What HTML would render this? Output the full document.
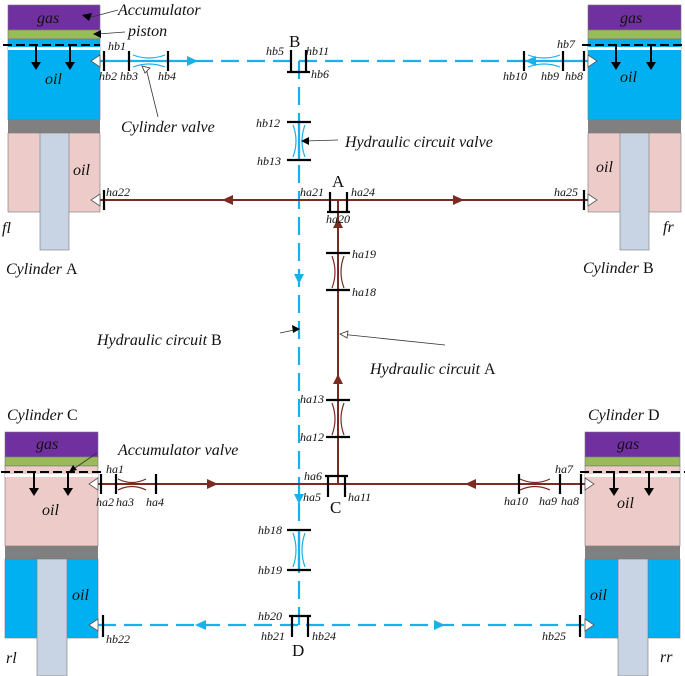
<!DOCTYPE html>
<html><head><meta charset="utf-8"><style>
html,body{margin:0;padding:0;background:#fff}
svg{display:block}
text{font-family:"Liberation Serif",serif;font-style:italic;fill:#111}
.s{font-size:12px}
.m{font-size:16px}
.l{font-size:17px}
.n{font-style:normal}
</style></head><body>
<svg width="685" height="676" viewBox="0 0 685 676" xmlns="http://www.w3.org/2000/svg">
<!-- Cylinder A -->
<rect x="8" y="5" width="92" height="25" fill="#7030a0" stroke="#777" stroke-width=".6"/>
<rect x="8" y="30" width="92" height="9" fill="#9bbb59" stroke="#777" stroke-width=".6"/>
<rect x="8" y="39" width="92" height="81" fill="#00b0f0" stroke="#777" stroke-width=".6"/>
<rect x="8" y="47" width="92" height="3" fill="#fff"/>
<rect x="8" y="120" width="92" height="13" fill="#808080"/>
<rect x="8" y="133" width="92" height="79" fill="#eccbc8" stroke="#777" stroke-width=".6"/>
<rect x="40" y="133" width="29" height="117" fill="#c8d4e4" stroke="#777" stroke-width=".6"/>
<line x1="3" y1="45" x2="100" y2="45" stroke="#000" stroke-width="2" stroke-dasharray="9,4"/>
<line x1="36" y1="44" x2="36" y2="64" stroke="#000" stroke-width="2"/><path d="M31,62 L41,62 L36,70z"/>
<line x1="70" y1="44" x2="70" y2="64" stroke="#000" stroke-width="2"/><path d="M65,62 L75,62 L70,70z"/>
<text x="37" y="23" class="m">gas</text>
<text x="45" y="84" class="m">oil</text>
<text x="73" y="175" class="m">oil</text>
<text x="2" y="233" class="m">fl</text>
<text x="6" y="274" class="m">Cylinder <tspan class="n">A</tspan></text>
<!-- Cylinder B -->
<rect x="588" y="5" width="93" height="25" fill="#7030a0" stroke="#777" stroke-width=".6"/>
<rect x="588" y="30" width="93" height="9" fill="#9bbb59" stroke="#777" stroke-width=".6"/>
<rect x="588" y="39" width="93" height="81" fill="#00b0f0" stroke="#777" stroke-width=".6"/>
<rect x="588" y="47" width="93" height="3" fill="#fff"/>
<rect x="588" y="120" width="93" height="13" fill="#808080"/>
<rect x="588" y="133" width="93" height="79" fill="#eccbc8" stroke="#777" stroke-width=".6"/>
<rect x="620" y="133" width="29" height="117" fill="#c8d4e4" stroke="#777" stroke-width=".6"/>
<line x1="582" y1="45" x2="685" y2="45" stroke="#000" stroke-width="2" stroke-dasharray="9,4"/>
<line x1="616" y1="44" x2="616" y2="64" stroke="#000" stroke-width="2"/><path d="M611,62 L621,62 L616,70z"/>
<line x1="651" y1="44" x2="651" y2="64" stroke="#000" stroke-width="2"/><path d="M646,62 L656,62 L651,70z"/>
<text x="620" y="23" class="m">gas</text>
<text x="620" y="82" class="m">oil</text>
<text x="596" y="172" class="m">oil</text>
<text x="663" y="232" class="m">fr</text>
<text x="583" y="273" class="m">Cylinder <tspan class="n">B</tspan></text>
<!-- Cylinder C -->
<rect x="5" y="432" width="93" height="25" fill="#7030a0" stroke="#777" stroke-width=".6"/>
<rect x="5" y="457" width="93" height="9" fill="#9bbb59" stroke="#777" stroke-width=".6"/>
<rect x="5" y="466" width="93" height="80" fill="#eccbc8" stroke="#777" stroke-width=".6"/>
<rect x="5" y="474" width="93" height="3" fill="#fff"/>
<rect x="5" y="546" width="93" height="13" fill="#808080"/>
<rect x="5" y="559" width="93" height="79" fill="#00b0f0" stroke="#777" stroke-width=".6"/>
<rect x="37" y="559" width="30" height="117" fill="#c8d4e4" stroke="#777" stroke-width=".6"/>
<line x1="1" y1="472" x2="103" y2="472" stroke="#000" stroke-width="2" stroke-dasharray="9,4"/>
<line x1="34" y1="471" x2="34" y2="490" stroke="#000" stroke-width="2"/><path d="M29,488 L39,488 L34,496z"/>
<line x1="68" y1="471" x2="68" y2="490" stroke="#000" stroke-width="2"/><path d="M63,488 L73,488 L68,496z"/>
<text x="36" y="449" class="m">gas</text>
<text x="42" y="515" class="m">oil</text>
<text x="72" y="600" class="m">oil</text>
<text x="6" y="663" class="m">rl</text>
<text x="7" y="420" class="m">Cylinder <tspan class="n">C</tspan></text>
<!-- Cylinder D -->
<rect x="585" y="432" width="95" height="25" fill="#7030a0" stroke="#777" stroke-width=".6"/>
<rect x="585" y="457" width="95" height="9" fill="#9bbb59" stroke="#777" stroke-width=".6"/>
<rect x="585" y="466" width="95" height="80" fill="#eccbc8" stroke="#777" stroke-width=".6"/>
<rect x="585" y="474" width="95" height="3" fill="#fff"/>
<rect x="585" y="546" width="95" height="13" fill="#808080"/>
<rect x="585" y="559" width="95" height="79" fill="#00b0f0" stroke="#777" stroke-width=".6"/>
<rect x="618" y="559" width="30" height="117" fill="#c8d4e4" stroke="#777" stroke-width=".6"/>
<line x1="580" y1="472" x2="685" y2="472" stroke="#000" stroke-width="2" stroke-dasharray="9,4"/>
<line x1="614" y1="471" x2="614" y2="490" stroke="#000" stroke-width="2"/><path d="M609,488 L619,488 L614,496z"/>
<line x1="649" y1="471" x2="649" y2="490" stroke="#000" stroke-width="2"/><path d="M644,488 L654,488 L649,496z"/>
<text x="617" y="449" class="m">gas</text>
<text x="617" y="508" class="m">oil</text>
<text x="590" y="600" class="m">oil</text>
<text x="660" y="662" class="m">rr</text>
<text x="588" y="420" class="m">Cylinder <tspan class="n">D</tspan></text>

<!-- Blue circuit B -->
<g stroke="#1ab0ec" stroke-width="2.2" fill="none">
<line x1="100" y1="61" x2="195" y2="61"/>
<line x1="195" y1="61" x2="520" y2="61" stroke-dasharray="18,8"/>
<line x1="520" y1="61" x2="588" y2="61"/>
<line x1="299" y1="61" x2="299" y2="625" stroke-dasharray="18,8"/>
<line x1="299" y1="122" x2="299" y2="160"/>
<line x1="299" y1="530" x2="299" y2="570"/>
<line x1="98" y1="625" x2="585" y2="625" stroke-dasharray="18,8"/>
<g stroke-width="1.2">
<path d="M133,55 Q149,61 165,55 M133,67 Q149,61 165,67"/>
<path d="M528,55 Q544,61 560,55 M528,67 Q544,61 560,67"/>
<path d="M293,125 Q299,141 293,157 M305,125 Q299,141 305,157"/>
<path d="M293,533 Q299,550 293,567 M305,533 Q299,550 305,567"/>
</g>
</g>
<g fill="#1ab0ec">
<path d="M187,56 L198,61 L187,66z"/>
<path d="M536,56 L525,61 L536,66z"/>
<path d="M294,274 L299,284 L304,274z"/>
<path d="M294,494 L299,504 L304,494z"/>
<path d="M206,620 L195,625 L206,630z"/>
<path d="M434,620 L445,625 L434,630z"/>
</g>
<!-- Brown circuit A -->
<g stroke="#7b2b22" stroke-width="2" fill="none">
<line x1="100" y1="200" x2="588" y2="200"/>
<line x1="338" y1="200" x2="338" y2="484"/>
<line x1="98" y1="484" x2="585" y2="484"/>
<g stroke-width="1.2">
<path d="M332,256 Q338,272 332,288 M344,256 Q338,272 344,288"/>
<path d="M332,403 Q338,419 332,435 M344,403 Q338,419 344,435"/>
<path d="M118,479 Q132,486 146,479 M118,490 Q132,483 146,490"/>
<path d="M520,479 Q535,486 550,479 M520,490 Q535,483 550,490"/>
</g>
</g>
<g fill="#7b2b22">
<path d="M233,195 L222,200 L233,205z"/>
<path d="M453,195 L464,200 L453,205z"/>
<path d="M333,228 L338,218 L343,228z"/>
<path d="M333,384 L338,374 L343,384z"/>
<path d="M207,479 L218,484 L207,489z"/>
<path d="M476,479 L465,484 L476,489z"/>
</g>
<!-- black ticks -->
<g stroke="#000" stroke-width="2.2">
<line x1="104" y1="51" x2="104" y2="71"/><line x1="129" y1="51" x2="129" y2="71"/><line x1="168" y1="51" x2="168" y2="71"/>
<line x1="524" y1="51" x2="524" y2="71"/><line x1="563" y1="51" x2="563" y2="71"/><line x1="584" y1="51" x2="584" y2="71"/>
<line x1="291" y1="50" x2="291" y2="72"/><line x1="306" y1="50" x2="306" y2="72"/><line x1="287" y1="72" x2="310" y2="72"/>
<line x1="287" y1="122" x2="311" y2="122"/><line x1="287" y1="160" x2="311" y2="160"/>
<line x1="104" y1="190" x2="104" y2="210"/>
<line x1="584" y1="190" x2="584" y2="210"/>
<line x1="330" y1="192" x2="330" y2="212"/><line x1="347" y1="192" x2="347" y2="212"/><line x1="327" y1="212" x2="350" y2="212"/>
<line x1="326" y1="253" x2="350" y2="253"/><line x1="326" y1="290" x2="350" y2="290"/>
<line x1="326" y1="400" x2="350" y2="400"/><line x1="326" y1="437" x2="350" y2="437"/>
<line x1="325" y1="476" x2="348" y2="476"/><line x1="328" y1="476" x2="328" y2="497"/><line x1="345" y1="476" x2="345" y2="497"/>
<line x1="101" y1="474" x2="101" y2="494"/><line x1="116" y1="474" x2="116" y2="494"/><line x1="156" y1="474" x2="156" y2="494"/>
<line x1="519" y1="474" x2="519" y2="494"/><line x1="560" y1="474" x2="560" y2="494"/><line x1="581" y1="474" x2="581" y2="494"/>
<line x1="287" y1="530" x2="311" y2="530"/><line x1="287" y1="570" x2="311" y2="570"/>
<line x1="289" y1="616" x2="311" y2="616"/><line x1="292" y1="616" x2="292" y2="637"/><line x1="308" y1="616" x2="308" y2="637"/>
<line x1="103" y1="615" x2="103" y2="637"/>
<line x1="580" y1="615" x2="580" y2="637"/>
</g>
<!-- white port triangles -->
<g fill="#fff" stroke="#555" stroke-width=".8">
<path d="M100,55 L91,61 L100,67z"/>
<path d="M100,194 L91,200 L100,206z"/>
<path d="M98,478 L89,484 L98,490z"/>
<path d="M98,619 L89,625 L98,631z"/>
<path d="M588,55 L597,61 L588,67z"/>
<path d="M588,194 L597,200 L588,206z"/>
<path d="M585,478 L594,484 L585,490z"/>
<path d="M585,619 L594,625 L585,631z"/>
</g>
<!-- annotations -->
<g stroke="#333" stroke-width=".8" fill="none">
<path d="M118,10 L88,18"/><path d="M125,32 L98,34"/>
<path d="M158,117 L146,68"/>
<path d="M338,140 L304,141"/>
<path d="M97,453 L72,470"/>
<path d="M280,333 L299,329"/>
<path d="M445,345 L340,334"/>
</g>
<path d="M82,15 L92,13 L89,21z"/><path d="M93,34 L101,30 L101,38z"/>
<path d="M142,66 L150,68 L145,73z" fill="#fff" stroke="#333" stroke-width=".8"/>
<path d="M301,141 L309,137 L309,145z"/>
<path d="M69,472 L73,465 L77,470z"/>
<path d="M300,329 L292,325 L293,333z"/>
<path d="M340,334 L348,331 L347,338z" fill="#fff" stroke="#333" stroke-width=".8"/>
<text x="118" y="15" class="m">Accumulator</text>
<text x="128" y="36" class="m">piston</text>
<text x="121" y="132" class="m">Cylinder valve</text>
<text x="345" y="147" class="m">Hydraulic circuit valve</text>
<text x="118" y="455" class="m">Accumulator valve</text>
<text x="97" y="345" class="m">Hydraulic circuit <tspan class="n">B</tspan></text>
<text x="370" y="374" class="m">Hydraulic circuit <tspan class="n">A</tspan></text>
<text x="289" y="47" class="l n">B</text>
<text x="332" y="187" class="l n">A</text>
<text x="330" y="513" class="l n">C</text>
<text x="292" y="656" class="l n">D</text>
<!-- small labels -->
<g class="s">
<text x="108" y="50" class="s">hb1</text>
<text x="99" y="80" class="s">hb2</text><text x="120" y="80" class="s">hb3</text><text x="158" y="80" class="s">hb4</text>
<text x="266" y="55" class="s">hb5</text><text x="306" y="55" class="s">hb11</text><text x="311" y="78" class="s">hb6</text>
<text x="557" y="48" class="s">hb7</text>
<text x="503" y="80" class="s">hb10</text><text x="541" y="80" class="s">hb9</text><text x="565" y="80" class="s">hb8</text>
<text x="256" y="127" class="s">hb12</text><text x="257" y="165" class="s">hb13</text>
<text x="106" y="196" class="s">ha22</text>
<text x="300" y="196" class="s">ha21</text><text x="351" y="196" class="s">ha24</text><text x="326" y="223" class="s">ha20</text>
<text x="554" y="196" class="s">ha25</text>
<text x="352" y="258" class="s">ha19</text><text x="352" y="296" class="s">ha18</text>
<text x="300" y="403" class="s">ha13</text><text x="300" y="441" class="s">ha12</text>
<text x="106" y="473" class="s">ha1</text>
<text x="96" y="506" class="s">ha2</text><text x="116" y="506" class="s">ha3</text><text x="146" y="506" class="s">ha4</text>
<text x="304" y="480" class="s">ha6</text><text x="303" y="501" class="s">ha5</text><text x="348" y="501" class="s">ha11</text>
<text x="555" y="473" class="s">ha7</text>
<text x="504" y="505" class="s">ha10</text><text x="539" y="505" class="s">ha9</text><text x="561" y="505" class="s">ha8</text>
<text x="258" y="534" class="s">hb18</text><text x="258" y="574" class="s">hb19</text>
<text x="258" y="620" class="s">hb20</text><text x="261" y="640" class="s">hb21</text><text x="312" y="640" class="s">hb24</text>
<text x="106" y="643" class="s">hb22</text>
<text x="542" y="640" class="s">hb25</text>
</g>
</svg>
</body></html>
